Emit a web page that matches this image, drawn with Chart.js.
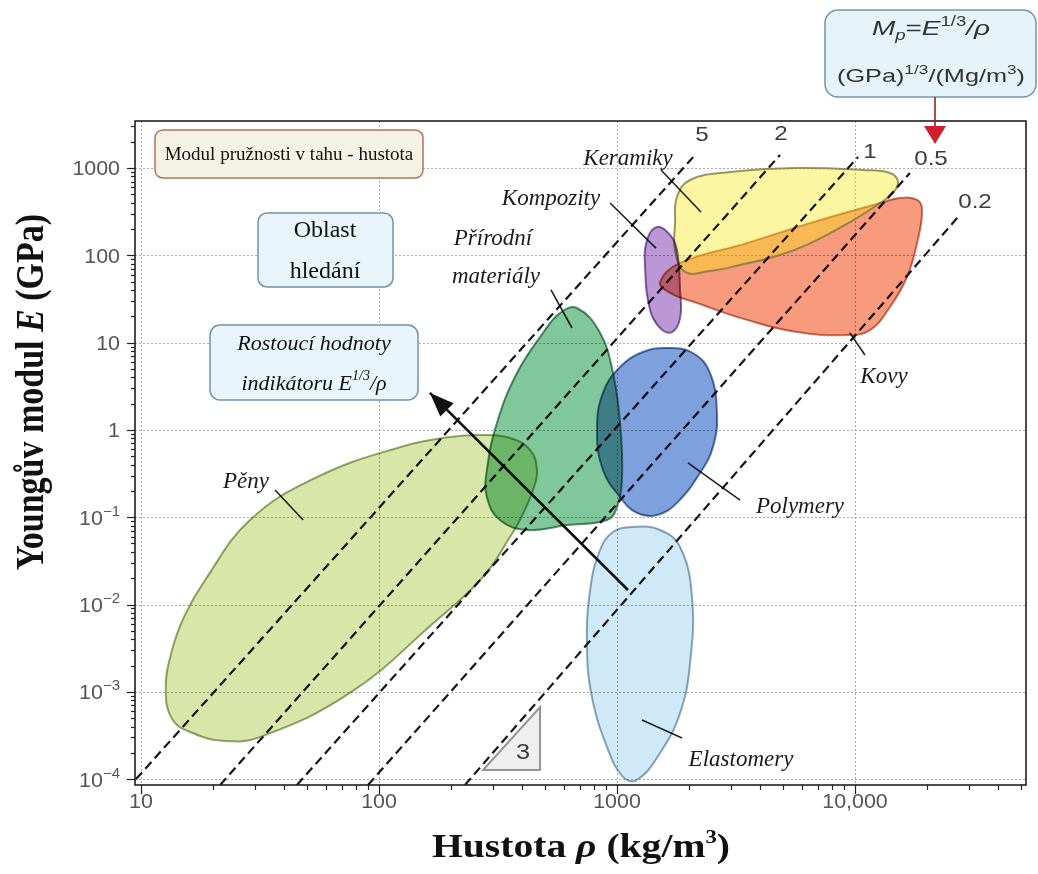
<!DOCTYPE html>
<html>
<head>
<meta charset="utf-8">
<script src="https://cdn.jsdelivr.net/npm/chart.js@4.4.1/dist/chart.umd.min.js"></script>
<style>
  html, body { margin: 0; padding: 0; background: #ffffff; }
  #wrap { width: 1038px; height: 874px; }
</style>
</head>
<body>
<div id="wrap"><canvas id="chart" width="1038" height="874"></canvas></div>
<script>
// ---- axis ranges (density in kg/m3, Young's modulus in GPa) ----
const densityRange = [9.436, 52300];
const modulusRange = [8.56e-5, 3454];

const densityMajorTicks = [10, 100, 1000, 10000];
const densityTickLabels = ['10', '100', '1000', '10,000'];
const modulusMajorTicks = [1e-4, 1e-3, 1e-2, 1e-1, 1, 10, 100, 1000];
const modulusTickBases = ['10', '10', '10', '10', '1', '10', '100', '1000'];
const modulusTickPowers = ['−4', '−3', '−2', '−1', '', '', '', ''];
const minorSteps = [2, 3, 4, 5, 6, 7, 8, 9];

// ---- material property envelopes: [density, modulus] ----
const foams = [[12.7, 1.05e-3], [13.6, 4.75e-4], [16.5, 3.37e-4], [22.0, 2.75e-4], [31.6, 3.03e-4],
  [75.5, 9.7e-4], [169, 6.1e-3], [274, 0.0207], [355, 0.0593], [391, 0.0929], [444, 0.205],
  [461, 0.348], [431, 0.589], [355, 0.807], [274, 0.875], [199, 0.83], [123, 0.637],
  [54.8, 0.288], [28.7, 0.0929], [18.6, 0.0191], [15.3, 7.6e-3], [13.5, 3.0e-3]];
const naturalMaterials = [[679, 24.9], [849, 12.9], [962, 4.49], [1030, 1.2], [1050, 0.288],
  [1000, 0.131], [908, 0.0929], [617, 0.0814], [419, 0.0713], [322, 0.0929], [284, 0.17],
  [284, 0.348], [313, 1.2], [380, 4.49], [489, 12.9], [576, 21.8]];
const polymers = [[1622, 8.67], [2084, 7.6], [2460, 4.49], [2630, 1.56], [2530, 0.637],
  [2233, 0.321], [1786, 0.146], [1472, 0.106], [1213, 0.112], [1030, 0.17], [873, 0.348],
  [824, 1.0], [873, 2.65], [1030, 5.25], [1285, 7.8]];
const elastomers = [[1167, 0.0773], [1517, 0.0713], [1841, 0.0456], [2066, 0.0122],
  [2028, 2.14e-3], [1841, 5.71e-4], [1517, 1.99e-4], [1213, 9.77e-5], [1059, 1.06e-4],
  [908, 2.33e-4], [785, 8.7e-4], [748, 3.26e-3], [771, 0.0147], [849, 0.0421], [962, 0.0676]];
const composites = [[1472, 211], [1671, 171], [1786, 115], [1841, 40.1], [1841, 19.1],
  [1702, 13.2], [1517, 14.7], [1377, 23.6], [1312, 73.5], [1337, 150]];
const ceramics = [[1786, 466], [2028, 729], [2985, 900], [5702, 1000], [10810, 948],
  [14030, 877], [15170, 692], [14450, 517], [12740, 397], [9530, 240], [6410, 135],
  [4840, 101], [3289, 77.4], [2460, 66.1], [1932, 64.4], [1754, 115], [1754, 234]];
const metals = [[1517, 49.4], [1841, 81.7], [3516, 138], [6668, 240], [12740, 397],
  [15450, 453], [18230, 430], [19140, 330], [18230, 138], [16530, 56.4], [14030, 25.6],
  [11560, 13.9], [9247, 12.2], [5702, 13.2], [3516, 18.2], [2168, 28.4], [1671, 37.0]];

// ---- guide lines of constant E^(1/3)/rho ----
const indexLabels = ['5', '2', '1', '0.5', '0.2'];
const guide5 = [[9.53, 1.0e-4], [2128, 1409]];
const guide2 = [[21.5, 8.56e-5], [4842, 1409]];
const guide1 = [[45.2, 8.56e-5], [10300, 1337]];
const guide05 = [[89.9, 8.56e-5], [17020, 877]];
const guide02 = [[229.6, 8.56e-5], [27100, 275]];

// ---- leader lines, arrow and slope triangle ----
const leaderCeramics = [[1531, 948], [2254, 313]];
const leaderComposites = [[935, 397], [1458, 121]];
const leaderNatural = [[528, 40.1], [647, 14.7]];
const leaderFoams = [[36.6, 0.205], [48.0, 0.0929]];
const leaderPolymers = [[1987, 0.418], [3289, 0.157]];
const leaderElastomers = [[1274, 4.75e-4], [1875, 2.96e-4]];
const leaderMetals = [[9500, 13.0], [11010, 7.21]];
const searchArrow = [[1112, 0.01466], [163.7, 2.65]];
const slopeTriangle = [[273.5, 1.27e-4], [475, 1.27e-4], [475, 6.7e-4]];

const materialLabels = ['Keramiky', 'Kompozity', 'Přírodní', 'materiály', 'Pěny', 'Polymery', 'Elastomery', 'Kovy'];

// ---------------------------------------------------------------
// closed smooth outline: a line element that loops back to its first point
class ClosedCurveController extends Chart.LineController {
  update(mode) {
    super.update(mode);
    const line = this._cachedMeta.dataset;
    if (line) {
      line._loop = true;
      line._fullLoop = true;
      line._pointsUpdated = false;
      line._path = undefined;
      line._segments = undefined;
    }
  }
}
ClosedCurveController.id = 'closedCurve';
ClosedCurveController.defaults = Object.assign({}, Chart.LineController.defaults, { spanGaps: true });
Chart.register(ClosedCurveController);

const toPoints = arr => arr.map(([x, y]) => ({ x, y }));

function envelope(label, arr, fill, edge, blend) {
  return { type: 'closedCurve', label, data: toPoints(arr), backgroundColor: fill, borderColor: edge,
    borderWidth: 2, fill: 'shape', tension: 0.42, pointRadius: 0, blend: blend || 'multiply' };
}
function segment(label, arr, color, width, dash) {
  return { type: 'line', label, data: toPoints(arr), borderColor: color, borderWidth: width,
    borderDash: dash || [], fill: false, tension: 0, pointRadius: 0 };
}

const datasets = [
  segment('arrow', searchArrow, '#111111', 2.6),
  segment('Keramiky', leaderCeramics, '#222222', 1.6),
  segment('Kompozity', leaderComposites, '#222222', 1.6),
  segment('Přírodní materiály', leaderNatural, '#222222', 1.6),
  segment('Pěny', leaderFoams, '#222222', 1.6),
  segment('Polymery', leaderPolymers, '#222222', 1.6),
  segment('Elastomery', leaderElastomers, '#222222', 1.6),
  segment('Kovy', leaderMetals, '#222222', 1.6),
  segment('5', guide5, '#161616', 2.2, [9, 5]),
  segment('2', guide2, '#161616', 2.2, [9, 5]),
  segment('1', guide1, '#161616', 2.2, [9, 5]),
  segment('0.5', guide05, '#161616', 2.2, [9, 5]),
  segment('0.2', guide02, '#161616', 2.2, [9, 5]),
  { type: 'closedCurve', label: 'slope', data: toPoints(slopeTriangle), backgroundColor: '#efefef',
    borderColor: '#9a9a9a', borderWidth: 2, fill: 'shape', tension: 0, pointRadius: 0 },
  envelope('Kompozity', composites, '#bb97d6', '#8c6ea6'),
  envelope('Keramiky', ceramics, 'rgba(247,230,23,0.4)', 'rgba(120,116,60,0.75)', 'source-over'),
  envelope('Kovy', metals, '#f89a7e', '#c47c66'),
  envelope('Polymery', polymers, '#7ea0dc', '#5f7ca6'),
  envelope('Přírodní materiály', naturalMaterials, '#80c89b', '#5f9070'),
  envelope('Pěny', foams, '#d8e6aa', '#93aa74'),
  envelope('Elastomery', elastomers, '#d0e9f8', '#8fa8b8')
];

// ---------------------------------------------------------------
function drawRuns(ctx, parts, x, y, align, sx, color) {
  ctx.save();
  let w = 0;
  for (const p of parts) { ctx.font = p[1]; w += ctx.measureText(p[0]).width; }
  const start = align === 'center' ? -w / 2 : (align === 'right' ? -w : 0);
  ctx.translate(x, y);
  ctx.scale(sx || 1, 1);
  ctx.textAlign = 'left';
  ctx.textBaseline = 'alphabetic';
  ctx.fillStyle = color || '#000';
  let cx = start;
  for (const p of parts) {
    ctx.font = p[1];
    ctx.fillText(p[0], cx, p[2] || 0);
    cx += ctx.measureText(p[0]).width;
  }
  ctx.restore();
}

function roundBox(ctx, x0, y0, x1, y1, r, fill, stroke, lw) {
  ctx.save();
  ctx.beginPath();
  ctx.moveTo(x0 + r, y0);
  ctx.lineTo(x1 - r, y0); ctx.arcTo(x1, y0, x1, y0 + r, r);
  ctx.lineTo(x1, y1 - r); ctx.arcTo(x1, y1, x1 - r, y1, r);
  ctx.lineTo(x0 + r, y1); ctx.arcTo(x0, y1, x0, y1 - r, r);
  ctx.lineTo(x0, y0 + r); ctx.arcTo(x0, y0, x0 + r, y0, r);
  ctx.closePath();
  ctx.fillStyle = fill; ctx.fill();
  ctx.lineWidth = lw; ctx.strokeStyle = stroke; ctx.stroke();
  ctx.restore();
}

const SANS = 'Liberation Sans, Arial, sans-serif';
const SERIF = 'Liberation Serif, Times New Roman, serif';

const layerPlugin = {
  id: 'ashbyLayer',
  beforeDraw(chart) {
    const { ctx, width, height } = chart;
    ctx.save(); ctx.fillStyle = '#ffffff'; ctx.fillRect(0, 0, width, height); ctx.restore();
  },
  beforeDatasetsDraw(chart) {
    const { ctx, chartArea: a, scales: { x, y } } = chart;
    ctx.save();
    ctx.strokeStyle = '#a8a8a8'; ctx.lineWidth = 1; ctx.setLineDash([2, 2]);
    densityMajorTicks.forEach(v => {
      const px = Math.round(x.getPixelForValue(v)) + 0.5;
      ctx.beginPath(); ctx.moveTo(px, a.top); ctx.lineTo(px, a.bottom); ctx.stroke();
    });
    modulusMajorTicks.forEach(v => {
      const py = Math.round(y.getPixelForValue(v)) + 0.5;
      ctx.beginPath(); ctx.moveTo(a.left, py); ctx.lineTo(a.right, py); ctx.stroke();
    });
    ctx.restore();
    ctx.save();
    // datasets are drawn from the last one to the first one
    const last = chart.data.datasets.length - 1;
    ctx.globalCompositeOperation = chart.data.datasets[last].blend || 'multiply';
  },
  afterDatasetDraw(chart, args) {
    const next = chart.data.datasets[args.index - 1];
    if (next) chart.ctx.globalCompositeOperation = next.blend || 'multiply';
  },
  afterDatasetsDraw(chart) {
    const ctx = chart.ctx;
    ctx.restore();
    // arrow head of the search direction
    const pts = chart.getDatasetMeta(0).data;
    const p0 = pts[0], p1 = pts[1];
    const ang = Math.atan2(p1.y - p0.y, p1.x - p0.x);
    const L = 24, W = 9.5;
    const bx = p1.x - L * Math.cos(ang), by = p1.y - L * Math.sin(ang);
    ctx.save();
    ctx.fillStyle = '#111111';
    ctx.beginPath();
    ctx.moveTo(p1.x, p1.y);
    ctx.lineTo(bx - W * Math.sin(ang), by + W * Math.cos(ang));
    ctx.lineTo(bx + W * Math.sin(ang), by - W * Math.cos(ang));
    ctx.closePath(); ctx.fill();
    ctx.restore();
  },
  afterDraw(chart) {
    const { ctx, chartArea: a, scales: { x, y } } = chart;
    ctx.save();
    // frame
    ctx.strokeStyle = '#111111'; ctx.lineWidth = 1.5;
    ctx.strokeRect(a.left, a.top, a.right - a.left, a.bottom - a.top);
    // tick marks
    ctx.lineWidth = 1.2; ctx.strokeStyle = '#222222';
    const xTick = (v, len) => {
      const px = Math.round(x.getPixelForValue(v)) + 0.5;
      ctx.beginPath(); ctx.moveTo(px, a.bottom); ctx.lineTo(px, a.bottom + len); ctx.stroke();
    };
    const yTick = (v, len) => {
      const py = Math.round(y.getPixelForValue(v)) + 0.5;
      ctx.beginPath(); ctx.moveTo(a.left, py); ctx.lineTo(a.left - len, py); ctx.stroke();
    };
    densityMajorTicks.forEach(v => {
      xTick(v, 9);
      minorSteps.forEach(m => { const t = v * m; if (t <= densityRange[1]) xTick(t, 5); });
    });
    modulusMajorTicks.forEach(v => {
      yTick(v, 8);
      minorSteps.forEach(m => { const t = v * m; if (t <= modulusRange[1]) yTick(t, 4); });
    });
    ctx.restore();

    // tick labels
    densityMajorTicks.forEach((v, i) => {
      drawRuns(ctx, [[densityTickLabels[i], '20px ' + SANS]], x.getPixelForValue(v), 808, 'center', 1.07, '#555555');
    });
    modulusMajorTicks.forEach((v, i) => {
      const py = y.getPixelForValue(v) + 7.5;
      const parts = [[modulusTickBases[i], '20px ' + SANS]];
      if (modulusTickPowers[i]) parts.push([modulusTickPowers[i], '14px ' + SANS, -9]);
      drawRuns(ctx, parts, 120, py, 'right', 1.07, '#555555');
    });

    // axis titles
    drawRuns(ctx, [['Hustota ', 'bold 33px ' + SERIF], ['ρ', 'italic bold 33px ' + SERIF],
      [' (kg/m', 'bold 33px ' + SERIF], ['3', 'bold 19px ' + SERIF, -14], [')', 'bold 33px ' + SERIF]],
      581, 857, 'center', 1.2, '#111111');
    ctx.save();
    ctx.translate(43, 392);
    ctx.scale(1.2, 1);
    ctx.rotate(-Math.PI / 2);
    drawRuns(ctx, [['Youngův modul ', 'bold 34px ' + SERIF], ['E', 'italic bold 34px ' + SERIF],
      [' (GPa)', 'bold 34px ' + SERIF]], 0, 0, 'center', 1, '#111111');
    ctx.restore();

    // guide line values
    const idxPos = [[702, 141], [781, 140], [870, 158], [931, 165], [975, 208]];
    indexLabels.forEach((t, i) => drawRuns(ctx, [[t, '21px ' + SANS]], idxPos[i][0], idxPos[i][1], 'center', 1.15, '#3c3c3c'));

    // slope value
    drawRuns(ctx, [['3', '22px ' + SANS]], 523, 759, 'center', 1.15, '#3c3c3c');

    // material names
    const labPos = [[628, 165], [551, 205], [493, 245], [496, 283], [246, 488], [800, 513], [741, 766], [884, 383]];
    materialLabels.forEach((t, i) => drawRuns(ctx, [[t, 'italic 23px ' + SERIF]], labPos[i][0], labPos[i][1], 'center', 1, '#1a1a1a'));

    // title box
    roundBox(ctx, 155, 130, 423, 178, 8, '#f4f2e4', '#b8705c', 1.5);
    drawRuns(ctx, [['Modul pružnosti v tahu - hustota', '19px ' + SERIF]], 289, 160, 'center', 1, '#111111');

    // search region box
    roundBox(ctx, 258, 213, 393, 287, 9, '#e8f5fb', '#6f93aa', 1.5);
    drawRuns(ctx, [['Oblast', '24px ' + SERIF]], 325, 237, 'center', 1, '#111111');
    drawRuns(ctx, [['hledání', '24px ' + SERIF]], 325, 278, 'center', 1, '#111111');

    // direction box
    roundBox(ctx, 210, 325, 418, 400, 10, '#e8f5fb', '#6f93aa', 1.5);
    drawRuns(ctx, [['Rostoucí hodnoty', 'italic 22px ' + SERIF]], 314, 350, 'center', 1, '#111111');
    drawRuns(ctx, [['indikátoru E', 'italic 22px ' + SERIF], ['1/3', 'italic 14px ' + SERIF, -10],
      ['/ρ', 'italic 22px ' + SERIF]], 314, 390, 'center', 1, '#111111');

    // index definition box with pointer
    roundBox(ctx, 825, 10, 1036, 97, 13, '#e6f4fa', '#6f96ae', 1.5);
    drawRuns(ctx, [['M', 'italic 21px ' + SANS], ['p', 'italic 14px ' + SANS, 5], ['=', '21px ' + SANS],
      ['E', 'italic 21px ' + SANS], ['1/3', '14px ' + SANS, -9], ['/', 'italic 21px ' + SANS],
      ['ρ', 'italic 21px ' + SANS]], 931, 35, 'center', 1.33, '#333333');
    drawRuns(ctx, [['(GPa)', '19px ' + SANS], ['1/3', '13px ' + SANS, -8], ['/(Mg/m', '19px ' + SANS],
      ['3', '13px ' + SANS, -8], [')', '19px ' + SANS]], 931, 82, 'center', 1.33, '#333333');
    ctx.save();
    ctx.strokeStyle = '#9b1f24'; ctx.lineWidth = 1.6;
    ctx.beginPath(); ctx.moveTo(935, 97); ctx.lineTo(935, 128); ctx.stroke();
    ctx.fillStyle = '#cf2030';
    ctx.beginPath(); ctx.moveTo(924, 126); ctx.lineTo(946, 126); ctx.lineTo(935, 144); ctx.closePath(); ctx.fill();
    ctx.restore();
  }
};

new Chart(document.getElementById('chart'), {
  type: 'line',
  data: { datasets },
  options: {
    responsive: false,
    animation: false,
    events: [],
    layout: { padding: { top: 121, right: 12, left: 0, bottom: 0 } },
    plugins: { legend: { display: false }, tooltip: { enabled: false }, title: { display: false } },
    scales: {
      x: {
        type: 'logarithmic', min: densityRange[0], max: densityRange[1], bounds: 'data',
        ticks: { display: false }, grid: { display: false }, border: { display: false },
        afterFit(s) { s.height = 89; }
      },
      y: {
        type: 'logarithmic', min: modulusRange[0], max: modulusRange[1], bounds: 'data',
        ticks: { display: false }, grid: { display: false }, border: { display: false },
        afterFit(s) { s.width = 135; }
      }
    }
  },
  plugins: [layerPlugin]
});
</script>
</body>
</html>
